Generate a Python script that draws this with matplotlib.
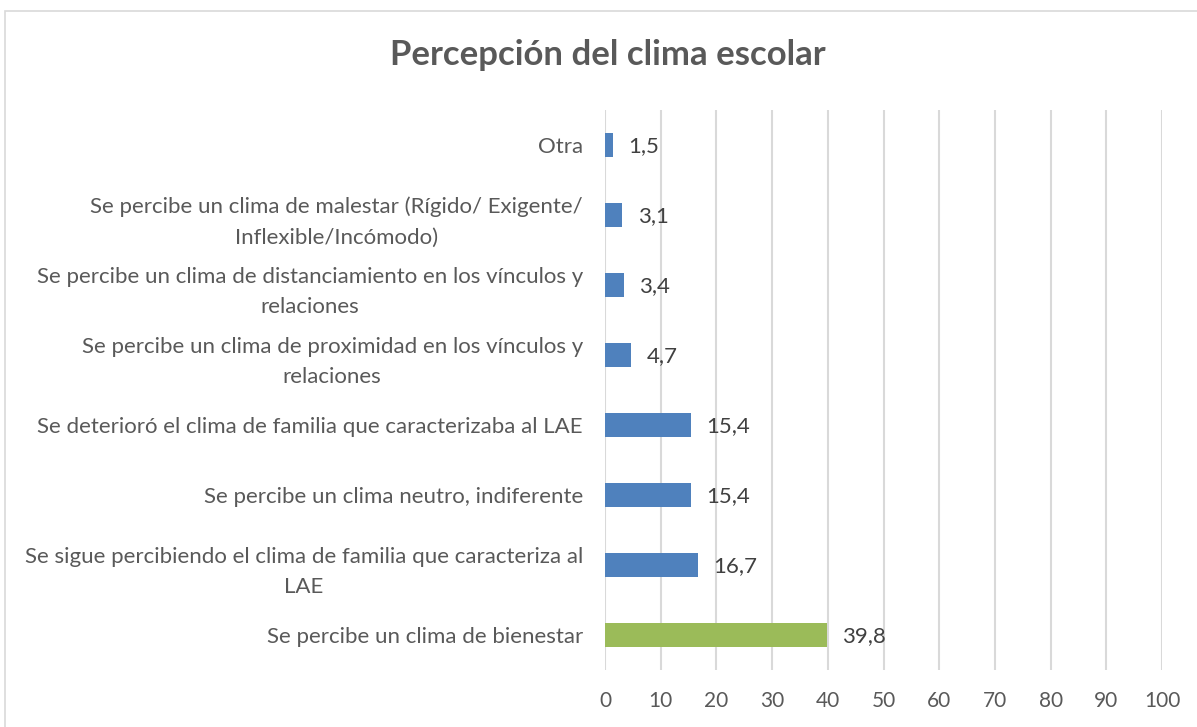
import matplotlib.pyplot as plt
from matplotlib.patches import Rectangle

plt.rcParams['font.family'] = ['Lato', 'DejaVu Sans']

# data, bottom to top
categories = [
    "Se percibe un clima de bienestar",
    "Se sigue percibiendo el clima de familia que caracteriza al\nLAE",
    "Se percibe un clima neutro, indiferente",
    "Se deterioró el clima de familia que caracterizaba al LAE",
    "Se percibe un clima de proximidad en los vínculos y\nrelaciones",
    "Se percibe un clima de distanciamiento en los vínculos y\nrelaciones",
    "Se percibe un clima de malestar (Rígido/ Exigente/\nInflexible/Incómodo)",
    "Otra",
]
values = [39.8, 16.7, 15.4, 15.4, 4.7, 3.4, 3.1, 1.5]
value_labels = ["39,8", "16,7", "15,4", "15,4", "4,7", "3,4", "3,1", "1,5"]
bar_colors = ["#9BBB59"] + ["#4F81BD"] * 7
x_ticks = list(range(0, 101, 10))

W, H = 1197, 727
fig = plt.figure(figsize=(W / 100, H / 100), dpi=100)
ax = fig.add_axes([605 / W, 1 - 670 / H, (1162 - 605) / W, (670 - 110) / H])

y = list(range(len(categories)))
ax.barh(y, values, height=0.35, color=bar_colors, zorder=3)

for yi, v, lab in zip(y, values, value_labels):
    ax.annotate(lab, (v, yi), xytext=(11, -1), textcoords='offset points',
                va='center', ha='left', fontsize=16, color='#404040')

ax.set_xlim(0, 100)
ax.set_ylim(-0.5, len(categories) - 0.5)
ax.set_xticks(x_ticks)
ax.set_yticks(y)
ax.set_yticklabels(categories)
for t in ax.get_yticklabels():
    t.set_multialignment('center')
    t.set_linespacing(1.65)

ax.grid(axis='x', color='#D9D9D9', linewidth=1.5, zorder=0)
for s in ax.spines.values():
    s.set_visible(False)
ax.tick_params(axis='both', length=0, labelsize=16, labelcolor='#595959')
ax.tick_params(axis='x', labelsize=15, pad=15)
ax.tick_params(axis='y', pad=16)

fig.text(608 / W, 1 - 55 / H, "Percepción del clima escolar", ha='center', va='center',
         fontsize=25, fontweight='bold', color='#595959')

# chart frame
fig.patches.append(Rectangle((5 / W, -0.1), 1.2, 1 - 11 / H + 0.1, transform=fig.transFigure,
                             fill=False, edgecolor='#D9D9D9', linewidth=1.2))

fig.savefig("out.png", dpi=100)
